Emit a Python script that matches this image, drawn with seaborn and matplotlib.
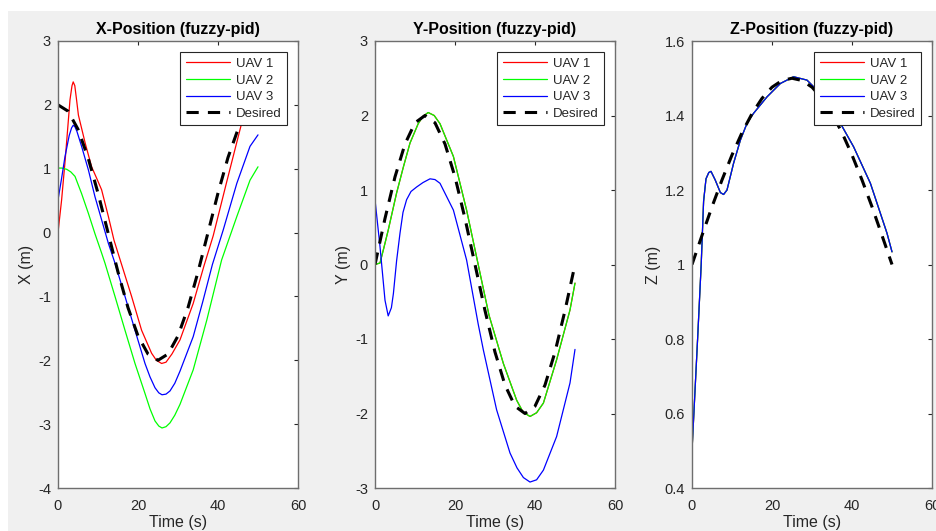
import matplotlib
matplotlib.use("Agg")
import matplotlib.pyplot as plt
from matplotlib.patches import Rectangle
from matplotlib.ticker import FormatStrFormatter
import seaborn as sns

# ---- desired reference trajectories (every 2.5 s) ----
t_des = [0, 2.5, 5, 7.5, 10, 12.5, 15, 17.5, 20, 22.5, 25,
         27.5, 30, 32.5, 35, 37.5, 40, 42.5, 45, 47.5, 50]
x_des = [2.0, 1.902, 1.618, 1.176, 0.618, 0.0, -0.618, -1.176, -1.618, -1.902, -2.0,
         -1.902, -1.618, -1.176, -0.618, 0.0, 0.618, 1.176, 1.618, 1.902, 2.0]
y_des = [0.0, 0.618, 1.176, 1.618, 1.902, 2.0, 1.902, 1.618, 1.176, 0.618, 0.0,
         -0.618, -1.176, -1.618, -1.902, -2.0, -1.902, -1.618, -1.176, -0.618, 0.0]
z_des = [1.0, 1.078, 1.155, 1.227, 1.294, 1.354, 1.405, 1.446, 1.476, 1.494, 1.5,
         1.494, 1.476, 1.446, 1.405, 1.354, 1.294, 1.227, 1.155, 1.078, 1.0]

# ---- X position ----
t_x1 = [0, 0.9, 1.8, 3.0, 3.5, 3.8, 4.2, 4.6, 5.1, 6.8, 8.4, 9.6, 10.9, 12.6, 14.0, 15.9,
        18.4, 20.9, 23.4, 24.6, 25.9, 27.0, 28.5, 30.5, 33.8, 36.5, 38.8, 42.2, 45.9, 48.0, 50.0]
x_uav1 = [0.0, 0.51, 1.14, 2.08, 2.30, 2.36, 2.30, 2.10, 1.84, 1.40, 1.03, 0.86, 0.67, 0.25, -0.12,
          -0.50, -1.00, -1.53, -1.89, -2.00, -2.05, -2.03, -1.90, -1.68, -1.11, -0.52, -0.05,
          0.80, 1.71, 1.95, 2.05]
t_x2 = [0, 1.0, 2.2, 3.2, 4.25, 5.9, 7.6, 9.25, 10.9, 11.75, 14.25, 16.75, 19.25,
        21.75, 23.0, 24.25, 25.2, 26.0, 27.0, 28.0, 29.2, 30.5, 33.8, 37.2, 40.9, 44.7,
        48.0, 50.0]
x_uav2 = [1.01, 1.01, 0.99, 0.95, 0.88, 0.61, 0.30, -0.02, -0.32, -0.48, -1.00, -1.53, -2.05,
          -2.52, -2.76, -2.95, -3.03, -3.06, -3.04, -2.98, -2.86, -2.69, -2.15, -1.37, -0.43,
          0.25, 0.82, 1.03]
t_x3 = [0, 0.9, 1.75, 2.8, 3.4, 3.8, 4.2, 4.7, 5.9, 7.6, 9.25, 10.9, 12.6, 14.25, 16.75,
        19.25, 21.75, 23.0, 24.25, 25.2, 26.0, 27.0, 28.0, 29.2, 30.5, 33.8, 36.2, 38.6,
        41.3, 44.7, 48.0, 50.0]
x_uav3 = [0.51, 0.85, 1.19, 1.52, 1.64, 1.68, 1.66, 1.59, 1.35, 0.98, 0.56, 0.20, -0.17,
          -0.48, -1.00, -1.53, -2.05, -2.26, -2.43, -2.51, -2.54, -2.53, -2.48, -2.36, -2.17,
          -1.63, -1.08, -0.50, 0.04, 0.77, 1.35, 1.53]

# ---- Y position (UAV 1 sits under UAV 2) ----
t_y2 = [0, 1.25, 2.2, 3.3, 5.4, 7.1, 8.75, 10.8, 12.0, 13.3, 14.8, 16.25, 19.6, 22.9,
        25.4, 28.5, 32.1, 35.4, 37.0, 38.75, 40.4, 42.1, 45.4, 48.75, 50]
y_uav2 = [0.0, 0.02, 0.22, 0.46, 0.96, 1.31, 1.63, 1.89, 1.99, 2.04, 2.0, 1.89, 1.45, 0.73,
          0.10, -0.68, -1.33, -1.82, -1.98, -2.04, -1.99, -1.86, -1.28, -0.61, -0.25]
t_y1 = t_y2
y_uav1 = y_uav2
t_y3 = [0, 1.25, 2.5, 3.3, 4.1, 4.6, 5.4, 6.25, 7.0, 7.9, 9.0, 10.4, 12.0, 13.75, 15.0,
        16.25, 19.6, 22.9, 25.8, 27.1, 30.4, 33.75, 35.5, 37.1, 38.75, 40.4, 42.1, 45.4,
        48.75, 50]
y_uav3 = [0.87, 0.24, -0.48, -0.69, -0.58, -0.39, 0.05, 0.42, 0.70, 0.87, 0.98, 1.04, 1.10,
          1.15, 1.14, 1.09, 0.73, 0.06, -0.80, -1.15, -1.95, -2.53, -2.73, -2.86, -2.92,
          -2.89, -2.76, -2.31, -1.59, -1.14]

# ---- Z position (all three UAVs overlap) ----
t_z3 = [0, 1.4, 2.3, 2.9, 3.5, 4.2, 4.75, 5.8, 7.1, 7.9, 8.75, 10.4, 12.1, 13.75,
        15.4, 18.75, 22.1, 25.4, 28.75, 32.0, 35.0, 37.1, 40.4, 44.6, 48.75, 50]
z_uav3 = [0.50, 0.80, 1.00, 1.17, 1.23, 1.247, 1.25, 1.227, 1.193, 1.188, 1.20, 1.272, 1.334,
          1.379, 1.406, 1.45, 1.486, 1.504, 1.495, 1.46, 1.41, 1.379, 1.316, 1.218, 1.084, 1.034]
t_z1 = t_z2 = t_z3
z_uav1 = z_uav2 = z_uav3

names = ["UAV 1", "UAV 2", "UAV 3"]
colors = ["#ff0000", "#00ff00", "#0000ff"]
ink = "#262626"

sns.set_style("white")
plt.rcParams["font.family"] = ["Liberation Sans", "DejaVu Sans"]

fig = plt.figure(figsize=(9.36, 5.31), dpi=100, facecolor="#f0f0f0")
# white margin strips of the screenshot
fig.patches.append(Rectangle((0, 1 - 11 / 531), 1, 11 / 531, transform=fig.transFigure,
                             facecolor="white", edgecolor="none", zorder=0))
fig.patches.append(Rectangle((0, 0), 8 / 936, 1, transform=fig.transFigure,
                             facecolor="white", edgecolor="none", zorder=0))

lefts = [58 / 936, 375 / 936, 692 / 936]
bottom, height = 43 / 531, 447 / 531
width = 240 / 936

panels = [
    ("X-Position (fuzzy-pid)", "X (m)", [(t_x1, x_uav1), (t_x2, x_uav2), (t_x3, x_uav3)],
     x_des, (-4, 3), [-4, -3, -2, -1, 0, 1, 2, 3]),
    ("Y-Position (fuzzy-pid)", "Y (m)", [(t_y1, y_uav1), (t_y2, y_uav2), (t_y3, y_uav3)],
     y_des, (-3, 3), [-3, -2, -1, 0, 1, 2, 3]),
    ("Z-Position (fuzzy-pid)", "Z (m)", [(t_z1, z_uav1), (t_z2, z_uav2), (t_z3, z_uav3)],
     z_des, (0.4, 1.6), [0.4, 0.6, 0.8, 1.0, 1.2, 1.4, 1.6]),
]

for left, (title, ylab, series, des, ylim, yticks) in zip(lefts, panels):
    ax = fig.add_axes([left, bottom, width, height])
    ax.set_facecolor("white")
    for (t, v), name, col in zip(series, names, colors):
        sns.lineplot(x=t, y=v, ax=ax, color=col, linewidth=0.9, label=name,
                     estimator=None, sort=False)
    sns.lineplot(x=t_des, y=des, ax=ax, color="black", linewidth=2.2, label="Desired",
                 linestyle=(0, (4, 3)), estimator=None, sort=False)

    ax.set_xlim(0, 60)
    ax.set_xticks([0, 20, 40, 60])
    ax.set_ylim(*ylim)
    ax.set_yticks(yticks)
    ax.yaxis.set_major_formatter(FormatStrFormatter("%g"))
    ax.tick_params(direction="in", top=True, right=True, length=3, width=0.8,
                   color=ink, labelcolor=ink, labelsize=10.5, pad=5)
    ax.tick_params(axis="x", pad=8)
    for sp in ax.spines.values():
        sp.set_color("#6e6e6e")
        sp.set_linewidth(1.0)
    ax.set_title(title, fontsize=11.5, fontweight="bold", color="black", pad=5)
    ax.set_xlabel("Time (s)", fontsize=11.5, color=ink, labelpad=1)
    ax.set_ylabel(ylab, fontsize=11.5, color=ink, labelpad=3)

    leg = ax.legend(loc="upper right", bbox_to_anchor=(0.954, 0.975), borderaxespad=0,
                    frameon=True, fancybox=False, framealpha=1, edgecolor=ink,
                    fontsize=9.5, handlelength=3.4, handletextpad=0.4,
                    labelspacing=0.33, borderpad=0.42)
    leg.get_frame().set_linewidth(0.8)

fig.savefig("out.png", dpi=100, facecolor=fig.get_facecolor())
